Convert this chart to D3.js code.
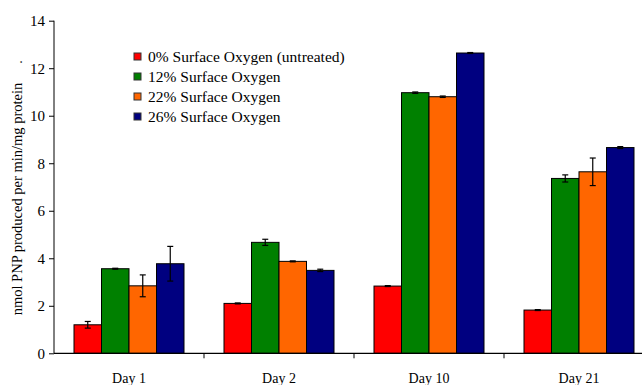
<!DOCTYPE html>
<html>
<head>
<meta charset="utf-8">
<script src="https://cdn.jsdelivr.net/npm/d3@7"></script>
<style>
  body { margin: 0; background: #fff; }
  svg text { font-family: "Liberation Serif", "DejaVu Serif", serif !important; fill: #000; }
</style>
</head>
<body>
<div id="chart"></div>
<script>
// data
var days = ["Day 1", "Day 2", "Day 10", "Day 21"];
var series = ["0% Surface Oxygen (untreated)", "12% Surface Oxygen", "22% Surface Oxygen", "26% Surface Oxygen"];
var colors = ["#ff0000", "#008000", "#ff6600", "#000080"];
var values = [
  [1.20, 2.10, 2.83, 1.82],   // 0%
  [3.56, 4.67, 10.97, 7.36],  // 12%
  [2.84, 3.87, 10.80, 7.64],  // 22%
  [3.77, 3.49, 12.64, 8.66]   // 26%
];
var errors = [
  [0.14, 0.02, 0.02, 0.02],
  [0.02, 0.13, 0.03, 0.15],
  [0.46, 0.02, 0.03, 0.58],
  [0.73, 0.05, 0.02, 0.04]
];
var yTicks = [0, 2, 4, 6, 8, 10, 12, 14];

var svgWidth = 642;
var svgHeight = 385;
var serif = "'Liberation Serif', 'DejaVu Serif', serif";

var svg = d3.select("#chart")
  .append("svg")
  .attr("width", svgWidth)
  .attr("height", svgHeight)
  .attr("font-family", serif);

// plot spans past the right edge like the original
var x0 = d3.scaleBand()
  .domain(days)
  .range([54, 654])
  .paddingInner(0)
  .paddingOuter(0);

var x1 = d3.scaleBand()
  .domain(d3.range(series.length))
  .range([20, 130])
  .padding(0);

var y = d3.scaleLinear()
  .domain([0, 14])
  .range([353.3, 20.7]);

// y axis
var yAxis = svg.append("g")
  .attr("transform", "translate(54,0)")
  .call(d3.axisLeft(y).tickValues(yTicks).tickSize(5).tickPadding(4));
yAxis.attr("font-family", serif).attr("font-size", 15);
yAxis.select(".domain").attr("stroke", "#000").attr("d", "M0," + y(14) + "V" + y(0));
yAxis.selectAll("line").attr("stroke", "#000");

// bars
var groups = svg.selectAll(".series")
  .data(series)
  .enter()
  .append("g")
  .attr("class", "series");

groups.each(function(s, i) {
  var g = d3.select(this);
  g.selectAll("rect")
    .data(values[i])
    .enter()
    .append("rect")
    .attr("x", (d, j) => x0(days[j]) + x1(i))
    .attr("y", d => y(d))
    .attr("width", x1.bandwidth())
    .attr("height", d => y(0) - y(d))
    .attr("fill", colors[i])
    .attr("stroke", "#000")
    .attr("stroke-width", 1);

  // error bars
  values[i].forEach(function(v, j) {
    var cx = x0(days[j]) + x1(i) + x1.bandwidth() / 2;
    var e = errors[i][j];
    g.append("line")
      .attr("x1", cx).attr("x2", cx)
      .attr("y1", y(v + e)).attr("y2", y(v - e))
      .attr("stroke", "#000").attr("stroke-width", 1.2);
    [v + e, v - e].forEach(function(t) {
      g.append("line")
        .attr("x1", cx - 3).attr("x2", cx + 3)
        .attr("y1", y(t)).attr("y2", y(t))
        .attr("stroke", "#000").attr("stroke-width", 1.2);
    });
  });
});

// x axis
svg.append("line")
  .attr("x1", 54).attr("x2", 654)
  .attr("y1", y(0)).attr("y2", y(0))
  .attr("stroke", "#000").attr("stroke-width", 1.3);

svg.selectAll(".xtick")
  .data(days.slice(1))
  .enter()
  .append("line")
  .attr("x1", d => x0(d)).attr("x2", d => x0(d))
  .attr("y1", y(0)).attr("y2", y(0) + 5)
  .attr("stroke", "#000");

svg.selectAll(".xlabel")
  .data(days)
  .enter()
  .append("text")
  .attr("x", d => x0(d) + x0.bandwidth() / 2)
  .attr("y", 383)
  .attr("text-anchor", "middle")
  .attr("font-size", 14)
  .text(d => d);

// y axis title
svg.append("text")
  .attr("transform", "rotate(-90)")
  .attr("x", -199)
  .attr("y", 22)
  .attr("text-anchor", "middle")
  .attr("font-size", 14.5)
  .text("nmol PNP produced per min/mg protein");
svg.append("text")
  .attr("transform", "rotate(-90)")
  .attr("x", -62)
  .attr("y", 22)
  .attr("text-anchor", "middle")
  .attr("font-size", 14)
  .text(".");

// legend
var legend = svg.selectAll(".legend")
  .data(series)
  .enter()
  .append("g")
  .attr("transform", (d, i) => `translate(134, ${53 + i * 20})`);

legend.append("rect")
  .attr("width", 7)
  .attr("height", 7)
  .attr("fill", (d, i) => colors[i])
  .attr("stroke", "#333")
  .attr("stroke-width", 1);

legend.append("text")
  .attr("x", 14)
  .attr("y", 9)
  .attr("font-size", 15.5)
  .text(d => d);
</script>
</body>
</html>
